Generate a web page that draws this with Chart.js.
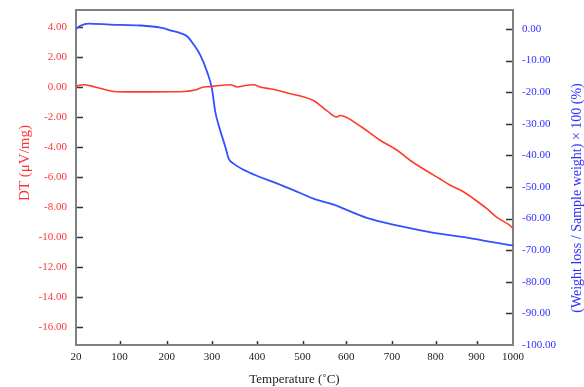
<!DOCTYPE html>
<html>
<head>
<meta charset="utf-8">
<script src="https://cdn.jsdelivr.net/npm/chart.js@4/dist/chart.umd.min.js"></script>
<style>
  html, body { margin: 0; padding: 0; background: #fff; }
  canvas { display: block; }
</style>
</head>
<body>
<canvas id="c" width="584" height="387"></canvas>
<script>
// DT / TG curve vs temperature, dual axis

const xTickTemps = [20, 100, 200, 300, 400, 500, 600, 700, 800, 900, 1000];
// where each temperature label sits across the plot width (axis is not linear)
const xTickFrac = [0, 0.0998, 0.2075, 0.3112, 0.4142, 0.5185, 0.6185, 0.7231, 0.8227, 0.9165, 1];

const dtTicks = [4, 2, 0, -2, -4, -6, -8, -10, -12, -14, -16];
const wlTicks = [0, -10, -20, -30, -40, -50, -60, -70, -80, -90, -100];

// DT curve (red, left axis)
const dtTemp = [20, 34, 55, 89, 130, 165, 210, 238, 263, 282, 295, 311, 341, 356, 374, 392, 407, 420, 440, 466, 480, 495, 525, 556, 578, 586, 631, 674, 711, 742, 780, 812, 836, 869, 893, 925, 956, 997, 1000];
const dtValue = [0.05, 0.15, 0.0, -0.3, -0.33, -0.33, -0.32, -0.3, -0.2, 0.0, 0.02, 0.08, 0.15, 0.0, 0.1, 0.15, 0.0, -0.08, -0.18, -0.4, -0.5, -0.6, -0.9, -1.6, -2.0, -1.9, -2.62, -3.55, -4.2, -4.9, -5.6, -6.15, -6.55, -7.0, -7.45, -8.05, -8.7, -9.35, -9.45];

// weight loss curve (blue, right axis)
const wlTemp = [20, 28, 43, 83, 144, 187, 215, 230, 245, 260, 275, 289, 300, 307, 318, 330, 337, 348, 378, 451, 495, 525, 571, 645, 719, 796, 877, 940, 1000];
const wlValue = [0, 1.0, 1.7, 1.4, 1.1, 0.4, -0.7, -1.3, -2.3, -5.0, -8.5, -13.5, -19, -26, -32, -37.5, -41, -42.6, -45.1, -49.3, -51.9, -53.7, -55.6, -59.8, -62.4, -64.5, -66, -67.4, -68.5];

const RED = '#ff3b2a';
const RED_TXT = '#ff3535';
const BLUE = '#3450ff';
const BLUE_TXT = '#2f2fff';
const FONT = '"Liberation Serif", "DejaVu Serif", serif';

// temperature scale: piecewise linear between the printed tick labels
class TempScale extends Chart.LinearScale {
  getPixelForValue(v) {
    let i = 0;
    while (i < xTickTemps.length - 2 && v > xTickTemps[i + 1]) i++;
    const t0 = xTickTemps[i], t1 = xTickTemps[i + 1];
    const f = xTickFrac[i] + (v - t0) / (t1 - t0) * (xTickFrac[i + 1] - xTickFrac[i]);
    return this.left + f * this.width;
  }
  getValueForPixel(p) {
    const f = (p - this.left) / this.width;
    let i = 0;
    while (i < xTickFrac.length - 2 && f > xTickFrac[i + 1]) i++;
    return xTickTemps[i] + (f - xTickFrac[i]) / (xTickFrac[i + 1] - xTickFrac[i]) * (xTickTemps[i + 1] - xTickTemps[i]);
  }
}
TempScale.id = 'temp';
TempScale.defaults = Chart.LinearScale.defaults;
Chart.register(TempScale);

function noPad(s) {
  s.paddingTop = 0; s.paddingBottom = 0; s.paddingLeft = 0; s.paddingRight = 0;
}

const framePlugin = {
  id: 'frame',
  beforeDatasetsDraw(chart) {
    const { ctx, chartArea: a, scales } = chart;
    ctx.save();
    // inward tick marks
    ctx.strokeStyle = '#333';
    ctx.lineWidth = 1.5;
    ctx.beginPath();
    scales.y.ticks.forEach((t, i) => {
      const y = Math.round(scales.y.getPixelForTick(i)) + 0.5;
      if (y > a.top + 2 && y < a.bottom - 2) { ctx.moveTo(a.left, y); ctx.lineTo(a.left + 7, y); }
    });
    scales.y2.ticks.forEach((t, i) => {
      const y = Math.round(scales.y2.getPixelForTick(i)) + 0.5;
      if (y > a.top + 2 && y < a.bottom - 2) { ctx.moveTo(a.right, y); ctx.lineTo(a.right - 7, y); }
    });
    scales.x.ticks.forEach((t, i) => {
      const x = Math.round(scales.x.getPixelForTick(i)) + 0.5;
      if (x > a.left + 2 && x < a.right - 2) { ctx.moveTo(x, a.bottom); ctx.lineTo(x, a.bottom - 4); }
    });
    ctx.stroke();
    // box
    ctx.strokeStyle = '#808080';
    ctx.lineWidth = 2;
    ctx.strokeRect(a.left, a.top, a.right - a.left, a.bottom - a.top);
    ctx.restore();
  },
  afterDraw(chart) {
    const { ctx, chartArea: a } = chart;
    ctx.save();
    ctx.font = '15px ' + FONT;
    ctx.textAlign = 'center';
    ctx.textBaseline = 'middle';
    ctx.fillStyle = RED_TXT;
    ctx.translate(25, a.top + 153);
    ctx.rotate(-Math.PI / 2);
    ctx.fillText('DT (\u03bcV/mg)', 0, 0);
    ctx.restore();
    ctx.save();
    ctx.font = '14px ' + FONT;
    ctx.textAlign = 'center';
    ctx.textBaseline = 'middle';
    ctx.fillStyle = BLUE_TXT;
    ctx.translate(a.right + 64, a.top + 188);
    ctx.rotate(-Math.PI / 2);
    ctx.fillText('(Weight loss / Sample weight) \u00d7 100 (%)', 0, 0);
    ctx.restore();
  }
};

const dtPoints = dtTemp.map((t, i) => ({ x: t, y: dtValue[i] }));
const wlPoints = wlTemp.map((t, i) => ({ x: t, y: wlValue[i] }));

new Chart(document.getElementById('c'), {
  type: 'line',
  data: {
    datasets: [
      { label: 'DT', data: dtPoints, yAxisID: 'y', borderColor: RED, borderWidth: 1.6,
        pointRadius: 0, cubicInterpolationMode: 'monotone', fill: false },
      { label: 'Weight loss', data: wlPoints, yAxisID: 'y2', borderColor: BLUE, borderWidth: 1.8,
        pointRadius: 0, cubicInterpolationMode: 'monotone', fill: false }
    ]
  },
  options: {
    responsive: false,
    animation: false,
    layout: { padding: { top: 10, left: 0, right: 0, bottom: 0 } },
    plugins: { legend: { display: false }, tooltip: { enabled: false } },
    scales: {
      x: {
        type: 'temp',
        position: 'bottom',
        min: 20, max: 1000,
        afterBuildTicks: s => { s.ticks = xTickTemps.map(v => ({ value: v })); },
        afterFit: s => { s.height = 42; noPad(s); },
        grid: { display: false, drawTicks: false },
        border: { display: false },
        ticks: { autoSkip: false, maxRotation: 0, padding: 6, color: '#222',
          font: { family: FONT, size: 11 }, callback: v => String(v) },
        title: { display: true, text: 'Temperature (\u02daC)', color: '#222',
          font: { family: FONT, size: 13 }, padding: { top: 0, bottom: 0 } }
      },
      y: {
        position: 'left',
        min: -17.2, max: 5.13,
        afterBuildTicks: s => { s.ticks = dtTicks.map(v => ({ value: v })); },
        afterFit: s => { s.width = 76; noPad(s); },
        grid: { display: false, drawTicks: false },
        border: { display: false },
        ticks: { autoSkip: false, padding: 9, color: RED_TXT,
          font: { family: FONT, size: 11 }, callback: v => v.toFixed(2) }
      },
      y2: {
        position: 'right',
        min: -100, max: 6,
        afterBuildTicks: s => { s.ticks = wlTicks.map(v => ({ value: v })); },
        afterFit: s => { s.width = 71; noPad(s); },
        grid: { display: false, drawTicks: false },
        border: { display: false },
        ticks: { autoSkip: false, padding: 9, color: BLUE_TXT,
          font: { family: FONT, size: 11 }, callback: v => v.toFixed(2) }
      }
    }
  },
  plugins: [framePlugin]
});
</script>
</body>
</html>
